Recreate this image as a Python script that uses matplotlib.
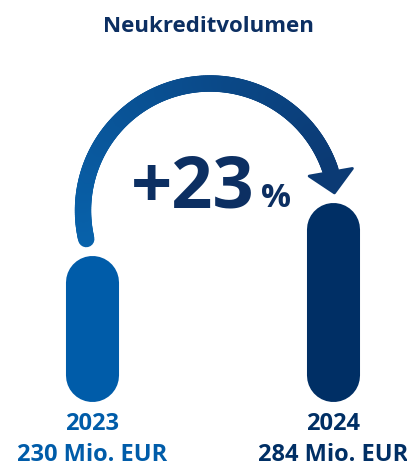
import numpy as np
import matplotlib.pyplot as plt
from matplotlib.collections import LineCollection
from matplotlib.patches import Polygon
from matplotlib.colors import to_rgb
from matplotlib.transforms import blended_transform_factory

# data
years = ["2023", "2024"]
volumes = [230, 284]          # Mio. EUR
value_labels = ["230 Mio. EUR", "284 Mio. EUR"]
bar_colors = ["#005ca9", "#002f65"]
title = "Neukreditvolumen"

NAVY = "#0c2f62"
BASELINE = 134                 # value where the visible stems start
W, H = 407, 467

plt.rcParams['font.family'] = ['Open Sans', 'DejaVu Sans']

fig = plt.figure(figsize=(W / 100, H / 100), dpi=100)

# bar axes: x = category index, y = value
ax = fig.add_axes([0, 0, 1, 1])
ax.set_xlim(-0.382, 1.307)
ax.set_ylim(38.5, 520.7)
ax.axis("off")

xs = np.arange(len(volumes))
for x, v, c in zip(xs, volumes, bar_colors):
    ax.plot([x, x], [BASELINE, v], color=c, lw=38.2, solid_capstyle="round")

# decoration axes in pixel units (y down)
deco = fig.add_axes([0, 0, 1, 1])
deco.set_xlim(0, W)
deco.set_ylim(H, 0)
deco.axis("off")
deco.patch.set_alpha(0)

# curved arrow with gradient
cx, cy, R = 210, 210.5, 127
phi = np.radians(np.linspace(193, 18, 200))
px = cx + R * np.cos(phi)
py = cy - R * np.sin(phi)
pts = np.column_stack([px, py]).reshape(-1, 1, 2)
segs = np.concatenate([pts[:-1], pts[1:]], axis=1)
c0, c1 = np.array(to_rgb("#0862ab")), np.array(to_rgb("#0b3a74"))
t = np.linspace(0, 1, len(segs))[:, None]
lc = LineCollection(segs, colors=c0 * (1 - t) + c1 * t, linewidths=11.8,
                    capstyle="round")
deco.add_collection(lc)

# arrow head
bx, by = px[-1], py[-1] + 1
ang = np.radians(10)
d = np.array([np.sin(ang), np.cos(ang)])
n = np.array([np.cos(ang), -np.sin(ang)])
base = np.array([bx, by])
head = [base + 22 * n, base + 21 * d, base - 22 * n]
deco.add_patch(Polygon(head, closed=True, facecolor=c1, edgecolor=c1,
                       lw=2, joinstyle="round"))

# texts
fig.text(208 / W, 1 - 32 / H, title, ha="center", va="baseline",
         fontsize=16, fontweight="bold", color=NAVY)

pct = round((volumes[1] / volumes[0] - 1) * 100)
deco.text(254, 207, f"+{pct}", ha="right", va="baseline",
          fontsize=52, fontweight="bold", color=NAVY)
deco.text(261, 207, "%", ha="left", va="baseline",
          fontsize=24, fontweight="bold", color=NAVY)

tr = blended_transform_factory(ax.transData, deco.transData)
for x, yr, lab, c in zip(xs, years, value_labels, bar_colors):
    ax.text(x, 430, yr, transform=tr, ha="center", va="baseline",
            fontsize=17, fontweight="bold", color=c)
    ax.text(x, 461, lab, transform=tr, ha="center", va="baseline",
            fontsize=17, fontweight="bold", color=c)

fig.savefig("out.png", dpi=100)
